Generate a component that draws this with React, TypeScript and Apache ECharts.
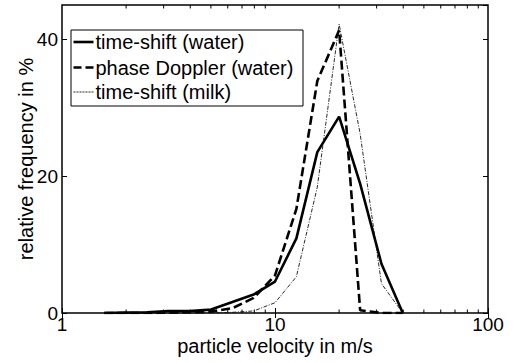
import React, { useEffect, useRef } from "react";
import * as echarts from "echarts";

const velocities = [1.58, 2, 2.51, 3.16, 3.98, 5.01, 6.31, 7.94, 10, 12.6, 15.8, 20, 25.1, 31.6, 39.8];
const timeShiftWater = [0, 0.05, 0.1, 0.3, 0.3, 0.5, 1.6, 2.7, 4.6, 10.9, 23.5, 28.7, 18.9, 7.2, 0];
const phaseDopplerWater = [0, 0, 0, 0.05, 0.1, 0.2, 0.7, 2.2, 5.5, 15.2, 33.9, 41.3, 0.4, 0, 0];
const timeShiftMilk = [0, 0, 0, 0, 0, 0, 0.1, 0.3, 1.5, 5.3, 18.4, 42.2, 26.2, 4.3, 0];
const seriesNames = ["time-shift (water)", "phase Doppler (water)", "time-shift (milk)"];
const minorTickValues = [2, 3, 4, 5, 6, 7, 8, 9, 20, 30, 40, 50, 60, 70, 80, 90];
const xMin = 1;
const xMax = 100;
const yMin = 0;
const yMax = 45;
const yInterval = 20;

const FONT = "'Liberation Sans', Arial, Helvetica, sans-serif";

const lineStyles: any[] = [
  { color: "#000", width: 2.6, type: "solid" },
  { color: "#000", width: 2.6, type: [9, 4] },
  { color: "#111", width: 0.9, type: [4, 1.5, 1, 1.5] },
];

function pairs(ys: number[]) {
  return velocities.map((v, i) => [v, ys[i]]);
}

export default function App() {
  const ref = useRef<HTMLDivElement>(null);
  useEffect(() => {
    if (!ref.current) return;
    const chart = echarts.init(ref.current, undefined, { renderer: "svg" });
    const tickCommon = { show: true, inside: true, length: 5, lineStyle: { color: "#000", width: 1 } };

    const legendX = 71;
    const legendY = 30;
    const rowY = [42, 67.5, 92];
    const legendChildren: any[] = [
      {
        type: "rect",
        shape: { x: legendX, y: legendY, width: 232, height: 76 },
        style: { fill: "#fff", stroke: "#000", lineWidth: 1 },
      },
    ];
    seriesNames.forEach((name, i) => {
      const ls = lineStyles[i];
      legendChildren.push({
        type: "line",
        shape: { x1: 73.5, y1: rowY[i], x2: 93.5, y2: rowY[i] },
        style: {
          stroke: ls.color,
          lineWidth: i === 2 ? 0.9 : 2.6,
          lineDash: i === 0 ? null : i === 1 ? [8, 4] : [2, 1],
        },
      });
      legendChildren.push({
        type: "text",
        x: 95.5,
        y: rowY[i],
        style: {
          text: name,
          fontSize: 20,
          fontFamily: FONT,
          fill: "#000",
          verticalAlign: "middle",
          align: "left",
        },
      });
    });

    const option: any = {
      animation: false,
      backgroundColor: "#fff",
      textStyle: { fontFamily: FONT },
      grid: {
        left: 62,
        right: 25,
        top: 5,
        bottom: 50,
        show: true,
        borderColor: "#000",
        borderWidth: 1.5,
        backgroundColor: "transparent",
      },
      graphic: [{ type: "group", z: 100, children: legendChildren }],
      xAxis: [
        {
          type: "log",
          logBase: 10,
          min: xMin,
          max: xMax,
          position: "bottom",
          name: "particle velocity in m/s",
          nameLocation: "middle",
          nameGap: 23,
          nameMoveOverlap: false,
          nameTextStyle: { fontSize: 20, color: "#000", fontFamily: FONT },
          axisLine: { show: false },
          axisTick: tickCommon,
          axisLabel: { fontSize: 19, color: "#000", margin: 2, fontFamily: FONT },
          splitLine: { show: false },
        },
        {
          type: "log",
          logBase: 10,
          min: xMin,
          max: xMax,
          position: "top",
          axisLine: { show: false },
          axisTick: tickCommon,
          axisLabel: { show: false },
          splitLine: { show: false },
        },
      ],
      yAxis: [
        {
          type: "value",
          min: yMin,
          max: yMax,
          interval: yInterval,
          position: "left",
          name: "relative frequency in %",
          nameLocation: "middle",
          nameGap: 26,
          nameMoveOverlap: false,
          nameTextStyle: { fontSize: 20, color: "#000", fontFamily: FONT },
          axisLine: { show: false },
          axisTick: tickCommon,
          axisLabel: { fontSize: 19, color: "#000", margin: 4, showMaxLabel: false, fontFamily: FONT },
          splitLine: { show: false },
        },
        {
          type: "value",
          min: yMin,
          max: yMax,
          interval: yInterval,
          position: "right",
          axisLine: { show: false },
          axisTick: tickCommon,
          axisLabel: { show: false },
          splitLine: { show: false },
        },
      ],
      series: [
        ...[timeShiftWater, phaseDopplerWater, timeShiftMilk].map((ys, i) => ({
          name: seriesNames[i],
          type: "line",
          data: pairs(ys),
          symbol: "none",
          lineStyle: lineStyles[i],
          itemStyle: { color: lineStyles[i].color },
          z: 3,
        })),
        {
          type: "custom",
          silent: true,
          data: minorTickValues.map((v) => [v, 0]),
          renderItem: (_params: any, api: any) => {
            const v = api.value(0);
            const b = api.coord([v, yMin]);
            const t = api.coord([v, yMax]);
            return {
              type: "group",
              children: [
                { type: "line", shape: { x1: b[0], y1: b[1], x2: b[0], y2: b[1] - 3.5 }, style: { stroke: "#000", lineWidth: 1 } },
                { type: "line", shape: { x1: t[0], y1: t[1], x2: t[0], y2: t[1] + 3.5 }, style: { stroke: "#000", lineWidth: 1 } },
              ],
            };
          },
          z: 2,
        },
      ],
    };
    chart.setOption(option);
    return () => chart.dispose();
  }, []);
  return <div ref={ref} style={{ width: 513, height: 363, position: "absolute", left: 0, top: 0 }} />;
}
